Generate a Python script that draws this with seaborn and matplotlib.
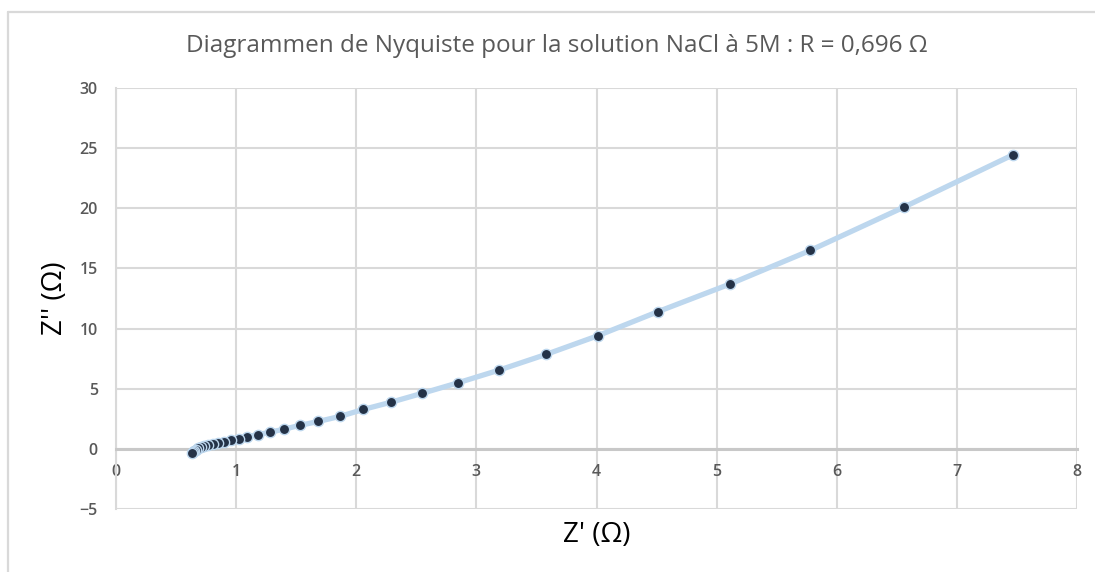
import matplotlib
matplotlib.use("Agg")
import matplotlib.pyplot as plt
from matplotlib.lines import Line2D
import seaborn as sns
import pandas as pd

# Impedance spectrum of 5M NaCl solution (ohms)
z_real = [7.47, 6.56, 5.78, 5.11, 4.51, 4.01, 3.58, 3.19, 2.85, 2.55, 2.29,
          2.06, 1.865, 1.685, 1.53, 1.40, 1.285, 1.18, 1.09, 1.02, 0.96,
          0.90, 0.85, 0.805, 0.77, 0.735, 0.71, 0.685, 0.665, 0.65, 0.638, 0.63]
z_imag = [24.46, 20.1, 16.5, 13.7, 11.4, 9.4, 7.85, 6.55, 5.5, 4.62, 3.88,
          3.28, 2.70, 2.28, 1.95, 1.64, 1.39, 1.18, 1.00, 0.84, 0.71,
          0.60, 0.49, 0.40, 0.31, 0.22, 0.13, 0.04, -0.06, -0.16, -0.26, -0.35]

x_ticks = [0, 1, 2, 3, 4, 5, 6, 7, 8]
y_ticks = [-5, 0, 5, 10, 15, 20, 25, 30]

title = "Diagrammen de Nyquiste pour la solution NaCl à 5M : R = 0,696 Ω"
x_label = "Z' (Ω)"
y_label = "Z'' (Ω)"

df = pd.DataFrame({"zr": z_real, "zi": z_imag})

sns.set_theme(style="white")
plt.rcParams["font.family"] = ["Open Sans", "DejaVu Sans"]

W, H = 1095, 572
fig = plt.figure(figsize=(W / 100, H / 100), dpi=100)
ax = fig.add_axes([116 / W, 1 - 509 / H, (1077 - 116) / W, (509 - 88) / H])

grid_col = "#D9D9D9"
line_col = "#BDD7EE"
mark_col = "#243247"

sns.lineplot(data=df, x="zr", y="zi", sort=False, ax=ax, color=line_col,
             linewidth=3.8, zorder=3)
sns.scatterplot(data=df, x="zr", y="zi", ax=ax, color=mark_col, s=55,
                edgecolor=line_col, linewidth=1.0, zorder=4)

ax.set_xlim(0, 8)
ax.set_ylim(-5, 30)
ax.set_xticks(x_ticks)
ax.set_yticks(y_ticks)
ax.grid(True, color=grid_col, linewidth=1.5)
ax.set_axisbelow(True)

for side in ["top", "right"]:
    ax.spines[side].set_visible(False)
ax.spines["left"].set_color(grid_col)
ax.spines["left"].set_linewidth(1.5)
ax.spines["bottom"].set_position(("data", 0))
ax.spines["bottom"].set_color("#C8C8C8")
ax.spines["bottom"].set_linewidth(2.2)

ax.tick_params(axis="both", length=0, colors="#595959", labelsize=11.5)
ax.tick_params(axis="x", pad=11)
ax.tick_params(axis="y", pad=13)
for lbl in ax.get_xticklabels() + ax.get_yticklabels():
    lbl.set_fontweight("semibold")

ax.set_xlabel("")
ax.set_ylabel("")

fig.text(557 / W, 1 - 46 / H, title, ha="center", va="center",
         fontsize=17.5, color="#595959")
fig.text(597 / W, 1 - 535 / H, x_label, ha="center", va="center",
         fontsize=20, color="#000000")
fig.text(55 / W, 1 - 298 / H, y_label, ha="center", va="center",
         fontsize=20, color="#000000", rotation=90)

# chart frame
fig.add_artist(Line2D([7.5 / W, 7.5 / W], [0, 1 - 12 / H],
                      transform=fig.transFigure, color=grid_col, linewidth=1.6))
fig.add_artist(Line2D([7.5 / W, 1], [1 - 12 / H, 1 - 12 / H],
                      transform=fig.transFigure, color=grid_col, linewidth=1.6))

fig.savefig("out.png", dpi=100, facecolor="white")
